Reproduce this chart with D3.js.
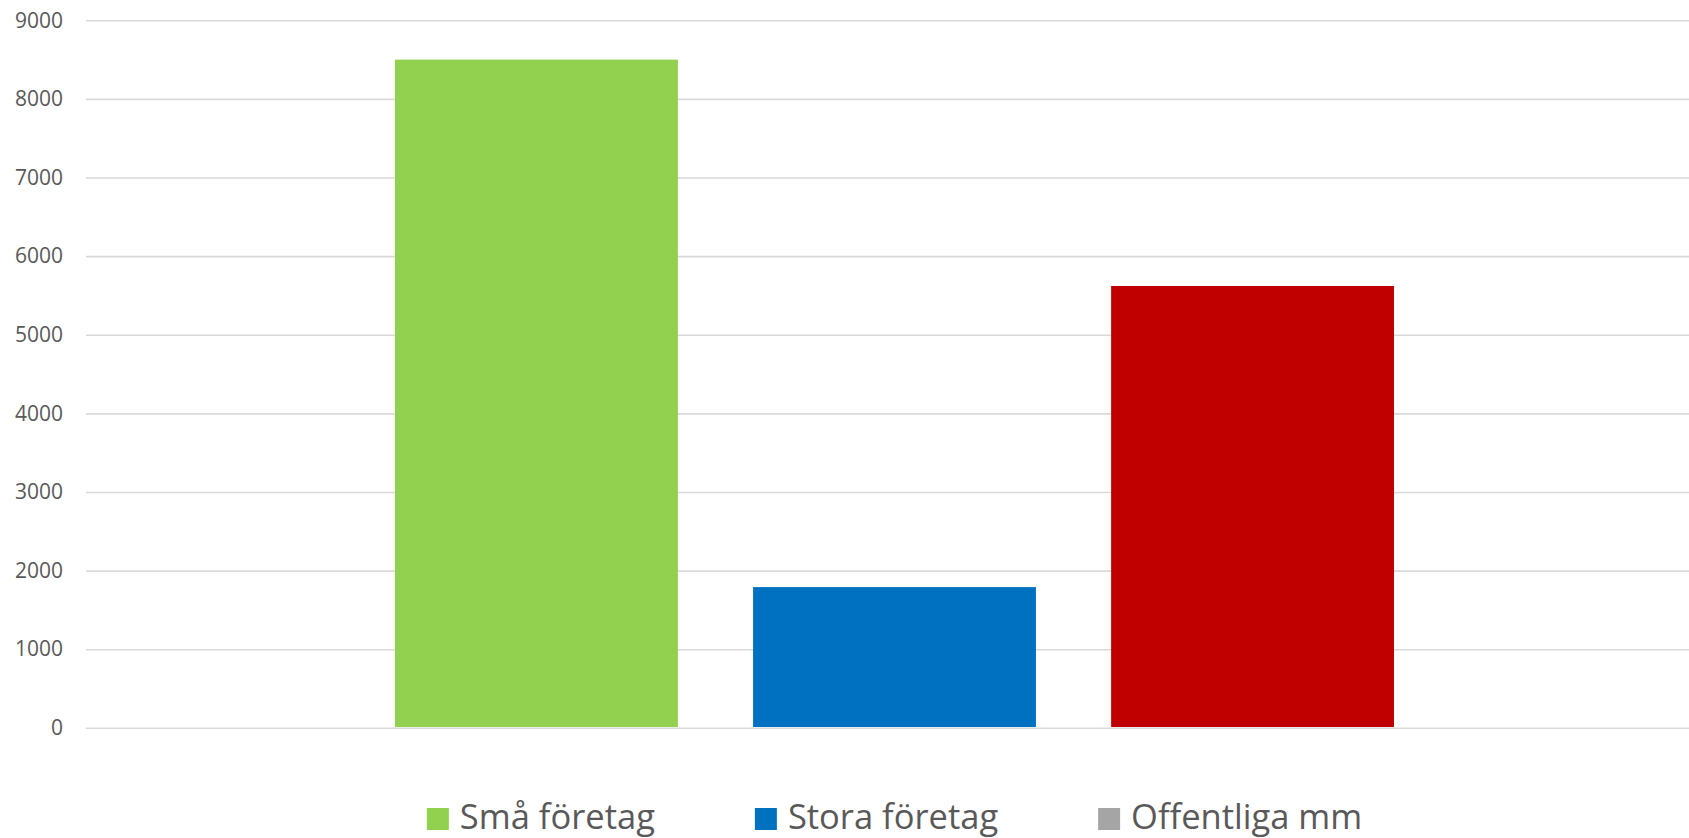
<!DOCTYPE html>
<html>
<head>
<meta charset="utf-8">
<script src="https://cdn.jsdelivr.net/npm/d3@7"></script>
<style>
  body { margin: 0; background: #fff; }
  svg { display: block; }
</style>
</head>
<body>
<svg id="drawing_region"></svg>
<script>
// data
const categories = ['2019'];
const seriesNames = ['Små företag', 'Stora företag', 'Offentliga mm'];
const seriesValues = [8500, 1790, 5620];
const barColors = ['#92d050', '#0070c0', '#c00000'];
const legendColors = ['#92d050', '#0070c0', '#a5a5a5'];
const yTicks = [0, 1000, 2000, 3000, 4000, 5000, 6000, 7000, 8000, 9000];

const config = {
    width: 1689,
    height: 838,
    plot: {left: 86, right: 1703, top: 20.3, bottom: 727.8}
};

const svg = d3.select('#drawing_region')
    .attr('width', config.width)
    .attr('height', config.height);

const xscale = d3.scaleBand()
    .domain(categories)
    .range([config.plot.left, config.plot.right]);

const xinner = d3.scaleBand()
    .domain(seriesNames)
    .range([0, xscale.bandwidth()])
    .paddingInner(0.21)
    .paddingOuter(0.863);

const yscale = d3.scaleLinear()
    .domain([0, 9000])
    .range([config.plot.bottom, config.plot.top]);

// gridlines + tick labels
const yaxis = d3.axisLeft(yscale)
    .tickValues(yTicks)
    .tickFormat(d3.format('d'))
    .tickSize(-(config.plot.right - config.plot.left))
    .tickPadding(23);

const yaxis_group = svg.append('g')
    .attr('transform', `translate(${config.plot.left}, 0)`)
    .call(yaxis);

yaxis_group.select('.domain').remove();
yaxis_group.selectAll('.tick line')
    .attr('stroke', '#d9d9d9')
    .attr('stroke-width', 1.6);
yaxis_group.selectAll('.tick text')
    .attr('fill', '#595959')
    .attr('font-family', '"Open Sans", sans-serif')
    .attr('font-size', '21px');

// bars
const rows = seriesNames.map((s, i) => ({name: s, value: seriesValues[i], color: barColors[i]}));

svg.append('g')
    .selectAll('rect')
    .data(rows)
    .enter()
    .append('rect')
    .attr('x', d => xscale(categories[0]) + xinner(d.name))
    .attr('width', xinner.bandwidth())
    .attr('y', d => yscale(d.value))
    .attr('height', d => yscale(0) - 0.8 - yscale(d.value))
    .attr('fill', d => d.color);

// legend
const legend = svg.append('g');
const sq = 22, textGap = 11, itemGap = 100;
let lx = 0;
seriesNames.forEach((s, i) => {
    const item = legend.append('g').attr('transform', `translate(${lx}, 0)`);
    item.append('rect')
        .attr('x', 0)
        .attr('y', 808)
        .attr('width', sq)
        .attr('height', sq)
        .attr('fill', legendColors[i]);
    const t = item.append('text')
        .attr('x', sq + textGap)
        .attr('y', 829)
        .attr('fill', '#595959')
        .attr('font-family', '"Open Sans", sans-serif')
        .attr('font-size', '34.5px')
        .text(s);
    lx += sq + textGap + t.node().getComputedTextLength() + itemGap;
});
const legendWidth = lx - itemGap;
const center = (config.plot.left + config.plot.right) / 2;
legend.attr('transform', `translate(${center - legendWidth / 2}, 0)`);
</script>
</body>
</html>
